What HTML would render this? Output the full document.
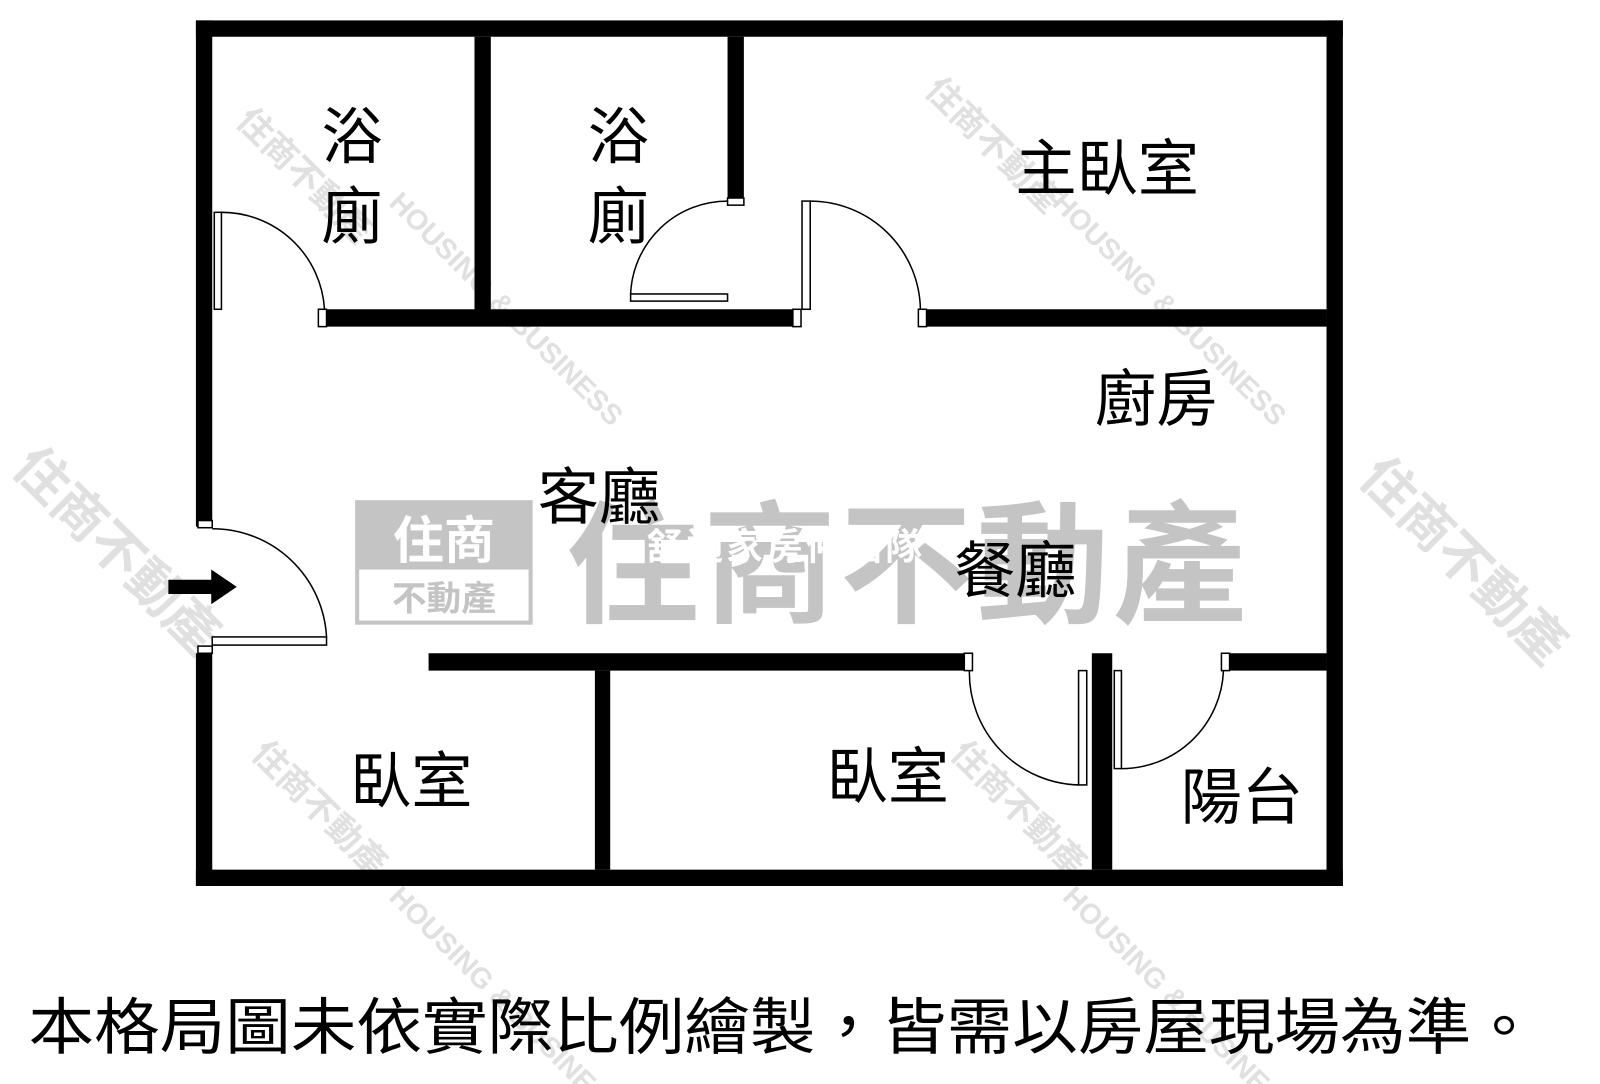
<!DOCTYPE html>
<html><head><meta charset="utf-8"><style>
html,body{margin:0;padding:0;background:#fff;}
svg{display:block;}
text{font-family:"Liberation Sans","Noto Sans CJK TC",sans-serif;}
</style></head><body>
<svg width="1600" height="1084" viewBox="0 0 1568 1062" preserveAspectRatio="none" xmlns="http://www.w3.org/2000/svg">
<rect width="1568" height="1062" fill="#fff"/>
<g fill="#e0e0e0" font-weight="bold">
<text x="0" y="0" font-size="34" transform="translate(230,120) rotate(45)">住商不動產</text>
<text x="0" y="0" font-size="34" transform="translate(905,90) rotate(45)">住商不動產</text>
<text x="0" y="0" font-size="28" transform="translate(380,200) rotate(45)">HOUSING &amp; BUSINESS</text>
<text x="0" y="0" font-size="28" transform="translate(1030,200) rotate(45)">HOUSING &amp; BUSINESS</text>
<text x="0" y="0" font-size="52" transform="translate(10,460) rotate(45)">住商不動產</text>
<text x="0" y="0" font-size="52" transform="translate(1330,470) rotate(45)">住商不動產</text>
<text x="0" y="0" font-size="34" transform="translate(245,740) rotate(45)">住商不動產</text>
<text x="0" y="0" font-size="34" transform="translate(930,740) rotate(45)">住商不動產</text>
<text x="0" y="0" font-size="28" transform="translate(380,880) rotate(45)">HOUSING &amp; BUSINESS</text>
<text x="0" y="0" font-size="28" transform="translate(1040,880) rotate(45)">HOUSING &amp; BUSINESS</text>
</g>
<g fill="#c4c4c4" font-weight="bold">
<rect x="350" y="492" width="170" height="118" fill="none" stroke="#c4c4c4" stroke-width="4"/>
<rect x="350" y="492" width="170" height="66" fill="#c4c4c4"/>
<text x="435" y="547" font-size="50" text-anchor="middle" fill="#fff">住商</text>
<text x="435" y="598" font-size="34" text-anchor="middle">不動產</text>
<text x="890" y="600" font-size="130" text-anchor="middle" letter-spacing="4">住商不動產</text>
</g>
<text x="770" y="548" font-size="36" font-weight="bold" text-anchor="middle" fill="#fff" letter-spacing="3">舒適家房仲團隊</text>
<g fill="#000">
<rect x="192" y="20" width="1124" height="16"/>
<rect x="192" y="852" width="1124" height="16"/>
<rect x="1300" y="20" width="16" height="848"/>
<rect x="192" y="20" width="16" height="496"/>
<rect x="192" y="640" width="16" height="228"/>
<rect x="465" y="36" width="16" height="268"/>
<rect x="713" y="36" width="16" height="158"/>
<rect x="320" y="303" width="457" height="17"/>
<rect x="908" y="303" width="392" height="17"/>
<rect x="420" y="640" width="525" height="17"/>
<rect x="1070" y="640" width="20" height="212"/>
<rect x="1205" y="640" width="95" height="17"/>
<rect x="583" y="657" width="15" height="195"/>
</g>
<g fill="none" stroke="#000" stroke-width="1.5">
<rect x="312" y="303" width="8" height="17" fill="#fff"/>
<rect x="777" y="303" width="8" height="17" fill="#fff"/>
<rect x="900" y="303" width="8" height="17" fill="#fff"/>
<rect x="945" y="640" width="8" height="17" fill="#fff"/>
<rect x="1197" y="640" width="8" height="17" fill="#fff"/>
<rect x="713" y="194" width="16" height="7" fill="#fff"/>
<rect x="194" y="510" width="14" height="7" fill="#fff"/>
<rect x="194" y="633" width="14" height="7" fill="#fff"/>
<rect x="210" y="208" width="7" height="95"/>
<path d="M217 208 A101 101 0 0 1 318 303"/>
<rect x="618" y="288" width="95" height="7"/>
<path d="M618 288 A95 95 0 0 1 713 197"/>
<rect x="786" y="197" width="8" height="106"/>
<path d="M794 197 A108 108 0 0 1 902 303"/>
<rect x="208" y="624" width="112" height="8"/>
<path d="M208 518 A112 112 0 0 1 320 624"/>
<rect x="1057" y="657" width="8" height="112"/>
<path d="M950 657 A110 110 0 0 0 1057 769"/>
<rect x="1092" y="657" width="7" height="96"/>
<path d="M1099 753 A100 100 0 0 0 1199 657"/>
</g>
<path d="M165 568 H207 V558 L232 575 L207 592 V582 H165 Z" fill="#000"/>
<g fill="#000" font-size="60" text-anchor="middle">
<text x="345" y="155">浴</text>
<text x="345" y="233">廁</text>
<text x="606" y="155">浴</text>
<text x="606" y="233">廁</text>
<text x="1085" y="186">主臥室</text>
<text x="1133" y="412">廚房</text>
<text x="587" y="508">客廳</text>
<text x="995" y="580">餐廳</text>
<text x="403" y="786">臥室</text>
<text x="870" y="782">臥室</text>
<text x="1217" y="802">陽台</text>
</g>
<text x="28" y="1027" font-size="60" fill="#000" textLength="1478" lengthAdjust="spacingAndGlyphs">本格局圖未依實際比例繪製，皆需以房屋現場為準。</text>
</svg>
</body></html>
